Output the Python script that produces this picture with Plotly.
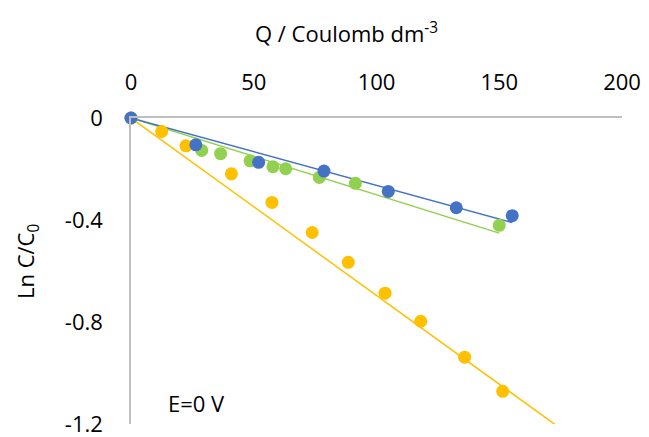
import numpy as np
import plotly.graph_objects as go

# ---- data ----
blue_q = [0, 26.4, 52.0, 78.6, 104.8, 132.5, 155.3]
blue_ln = [0, -0.105, -0.174, -0.208, -0.288, -0.352, -0.383]

green_q = [0, 28.8, 36.5, 48.5, 57.8, 63.0, 76.7, 91.4, 150.0]
green_ln = [0, -0.127, -0.140, -0.168, -0.191, -0.199, -0.233, -0.256, -0.421]

orange_q = [0, 12.5, 22.4, 40.9, 57.4, 73.8, 88.5, 103.5, 118.0, 135.9, 151.4]
orange_ln = [0, -0.053, -0.109, -0.219, -0.331, -0.449, -0.566, -0.687, -0.797, -0.938, -1.072]

# trendline slopes (through origin) and end of each trendline
trend_slope = {"blue": -0.00264, "green": -0.00301, "orange": -0.00696}
trend_end = {"blue": 155.3, "green": 150.0, "orange": 180.0}

x_ticks = [0, 50, 100, 150, 200]
y_ticks = [0, -0.4, -0.8, -1.2]
y_tick_text = ["0", "-0.4", "-0.8", "-1.2"]

colors = {"blue": "#4472C4", "green": "#92D050", "orange": "#FFC000"}
series = {
    "orange": (orange_q, orange_ln),
    "green": (green_q, green_ln),
    "blue": (blue_q, blue_ln),
}

FONT = "Open Sans"
FS = 22

W, H = 649, 437
ML, MR, MT, MB = 131, 27, 118, 13
PW, PH = W - ML - MR, H - MT - MB


def px(xp):
    return (xp - ML) / PW


def py(yp):
    return (H - MB - yp) / PH


fig = go.Figure()

# trendlines
for name in ["orange", "green", "blue"]:
    xs = np.array([0.0, trend_end[name]])
    fig.add_trace(go.Scatter(
        x=xs, y=trend_slope[name] * xs, mode="lines",
        line=dict(color=colors[name], width=1.5),
        showlegend=False, hoverinfo="skip",
    ))

# markers
for name in ["orange", "green", "blue"]:
    q, ln = series[name]
    fig.add_trace(go.Scatter(
        x=q, y=ln, mode="markers",
        marker=dict(color=colors[name], size=13, line=dict(width=0)),
        cliponaxis=False, showlegend=False, name=name,
    ))

fig.update_layout(
    width=W, height=H,
    margin=dict(l=ML, r=MR, t=MT, b=MB),
    paper_bgcolor="white", plot_bgcolor="white",
    font=dict(family=FONT, size=FS, color="#000000"),
    xaxis=dict(
        side="top", range=[0, 200], tickvals=x_ticks,
        showgrid=False, zeroline=False, automargin=False,
        showline=True, linecolor="#BFBFBF", linewidth=1.5,
        ticks="", ticklabelstandoff=17, ticklabeloverflow="allow",
        tickfont=dict(family=FONT, size=FS),
    ),
    yaxis=dict(
        range=[-1.2, 0], tickvals=y_ticks, ticktext=y_tick_text,
        showgrid=False, zeroline=False, automargin=False,
        showline=True, linecolor="#BFBFBF", linewidth=1.5,
        ticks="", ticklabelstandoff=22, ticklabeloverflow="allow",
        tickfont=dict(family=FONT, size=FS),
    ),
    annotations=[
        dict(text="Q / Coulomb dm<sup>-3</sup>", xref="paper", yref="paper",
             x=px(346), y=py(32), showarrow=False,
             xanchor="center", yanchor="middle", font=dict(family=FONT, size=FS)),
        dict(text="Ln C/C<sub>0</sub>", xref="paper", yref="paper",
             x=px(27), y=py(262), showarrow=False,
             textangle=-90, xanchor="center", yanchor="middle",
             font=dict(family=FONT, size=FS)),
        dict(text="E=0 V", xref="paper", yref="paper",
             x=px(196), y=py(403), showarrow=False,
             xanchor="center", yanchor="middle", font=dict(family=FONT, size=FS)),
    ],
)

fig.write_html("out.html")
